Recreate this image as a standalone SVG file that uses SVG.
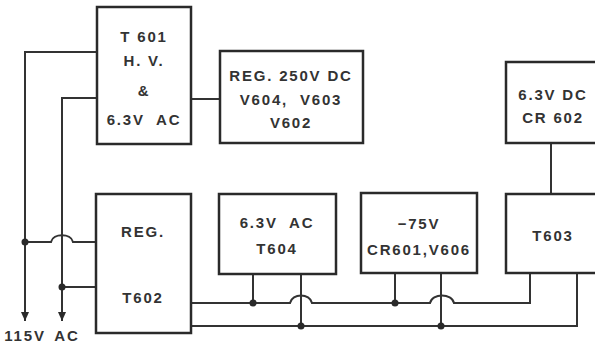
<svg xmlns="http://www.w3.org/2000/svg" width="595" height="345" viewBox="0 0 595 345">
<style>
.box{fill:#fff;stroke:#2a2a2a;stroke-width:2.5}
.w{fill:none;stroke:#333;stroke-width:2}
.dot{fill:#2a2a2a}
text{font-family:"Liberation Sans",Arial,sans-serif;font-size:15px;font-weight:bold;fill:#333;text-anchor:middle;letter-spacing:1.8px;white-space:pre}
</style>
<defs>
<marker id="arr" viewBox="0 0 9 8" refX="9" refY="4" markerWidth="9" markerHeight="8" markerUnits="userSpaceOnUse" orient="auto">
<path d="M0 0 L9 4 L0 8 Z" fill="#2a2a2a"/>
</marker>
</defs>
<rect width="595" height="345" fill="#fff"/>
<g id="connectors">
<path class="w" d="M97 52 H25 V321" marker-end="url(#arr)"/>
<path class="w" d="M97 98 H62 V321" marker-end="url(#arr)"/>
<path class="w" d="M191 99 H220"/>
<path class="w" d="M25 242 H51 C53 233,71 233,73 242 H96"/>
<path class="w" d="M62 287 H96"/>
<path class="w" d="M191 303 H290 C292 293,310 293,312 303 H430 C432 293,452 293,454 303 H530 V273"/>
<path class="w" d="M191 326 H577 V273"/>
<path class="w" d="M253 274 V303"/>
<path class="w" d="M301 274 V326"/>
<path class="w" d="M395 273 V303"/>
<path class="w" d="M441 273 V326"/>
<path class="w" d="M551 143 V194"/>
<circle class="dot" cx="25" cy="242" r="3.5"/>
<circle class="dot" cx="62" cy="287" r="3.5"/>
<circle class="dot" cx="253" cy="303" r="3.5"/>
<circle class="dot" cx="301" cy="326" r="3.5"/>
<circle class="dot" cx="395" cy="303" r="3.5"/>
<circle class="dot" cx="441" cy="326" r="3.5"/>
</g>
<g id="t601">
<rect class="box" x="97" y="7" width="94" height="137"/>
<text x="144" y="42">T 601</text>
<text x="144" y="66">H. V.</text>
<text x="144" y="96">&amp;</text>
<text x="144" y="125">6.3V  AC</text>
</g>
<g id="reg250">
<rect class="box" x="220" y="51" width="143" height="92"/>
<text x="291" y="81">REG. 250V DC</text>
<text x="291" y="105">V604,  V603</text>
<text x="291" y="128">V602</text>
</g>
<g id="dc63">
<rect class="box" x="506" y="62" width="96" height="81"/>
<text x="553" y="100">6.3V DC</text>
<text x="553" y="123">CR 602</text>
</g>
<g id="t602">
<rect class="box" x="96" y="194" width="95" height="139"/>
<text x="143" y="237">REG.</text>
<text x="143" y="303">T602</text>
</g>
<g id="t604">
<rect class="box" x="219" y="194" width="117" height="80"/>
<text x="277" y="228">6.3V  AC</text>
<text x="277" y="254">T604</text>
</g>
<g id="m75">
<rect class="box" x="361" y="193" width="116" height="80"/>
<text x="419" y="229">−75V</text>
<text x="419" y="255">CR601,V606</text>
</g>
<g id="t603">
<rect class="box" x="506" y="194" width="96" height="79"/>
<text x="553" y="241">T603</text>
</g>
<g id="input">
<text y="341"><tspan x="25">115V</tspan><tspan x="67">AC</tspan></text>
</g>
</svg>
